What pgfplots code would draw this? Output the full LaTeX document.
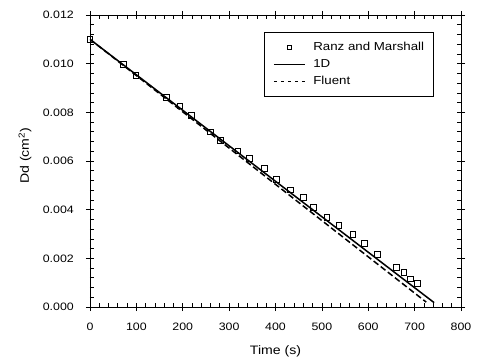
\documentclass[border=0pt]{standalone}
\usepackage{fontspec}
\setmainfont{Liberation Sans}[FakeStretch=1.15]
\usepackage{pgfplots}
\pgfplotsset{compat=1.18}
\pgfplotsset{
  markimg/.style={legend image code/.code={\draw[##1, mark size=2bp] plot coordinates {(15.5bp,0bp)};}},
  lineimg/.style={legend image code/.code={\draw[##1, line width=1bp] (0bp,0bp) -- (31bp,0bp);}},
  dashimg/.style={legend image code/.code={\draw[##1, line width=1bp, dash pattern=on 3bp off 4bp] (0bp,0bp) -- (31bp,0bp);}},
}
\begin{document}
\begin{tikzpicture}
\begin{axis}[
  scale only axis,
  width=371bp, height=292bp,
  xmin=0, xmax=800, ymin=0, ymax=0.012,
  xtick={0,100,...,800},
  ytick={0,0.002,0.004,0.006,0.008,0.010,0.012},
  minor x tick num=4, minor y tick num=4,
  tick align=inside,
  major tick length=0bp,
  minor tick length=4bp,
  extra x ticks={0,100,...,800},
  extra x tick labels={},
  extra y ticks={0,0.002,0.004,0.006,0.008,0.010,0.012},
  extra y tick labels={},
  extra tick style={tick align=center, major tick length=8bp},
  axis line style={line width=0.8bp},
  every tick/.style={black, line width=0.7bp},
  scaled y ticks=false,
  /pgf/number format/assume math mode=true,
  yticklabel={\pgfmathprintnumber[fixed, fixed zerofill, precision=3]{\tick}},
  xticklabel style={anchor=center, yshift=-19.7bp, inner sep=0pt, font=\fontsize{10.8}{12}\selectfont},
  yticklabel style={anchor=east, xshift=-16bp, inner sep=0pt, font=\fontsize{10.8}{12}\selectfont},
  xlabel={Time (s)},
  ylabel={Dd (cm\textsuperscript{2})},
  xlabel style={at={(axis description cs:0.5,-0.1507)}, anchor=center, font=\fontsize{12.3}{14}\selectfont},
  ylabel style={at={(axis description cs:-0.175,0.518)}, anchor=center, font=\fontsize{12.3}{14}\selectfont},
  legend style={at={(0.469,0.942)}, anchor=north west, draw=black, line width=0.7bp,
    font=\fontsize{11.6}{13}\selectfont, cells={anchor=west},
    nodes={inner sep=0pt, text height=8bp, text depth=2bp},
    inner xsep=9bp, inner ysep=10.5bp, row sep=6.7bp},
  legend cell align=left,
  /tikz/every odd column/.append style={column sep=8bp},
]
\coordinate (SW) at (rel axis cs:0,0);
\coordinate (NE) at (rel axis cs:1,1);
\addplot[only marks, mark=square, mark size=2.9bp, mark options={line width=0.9bp, black}, markimg]
  coordinates {
  (0,0.01101) (72,0.00997) (99,0.00952) (164,0.00862) (194,0.00826) (218,0.00788)
  (259,0.00719) (282,0.00686) (319,0.00641) (343,0.00609) (376,0.00568) (402,0.00525)
  (432,0.00481) (460,0.00449) (481,0.00408) (511,0.00367) (537,0.00336) (567,0.00297)
  (591,0.00262) (620,0.00216) (660,0.00164) (677,0.00142) (691,0.00115) (706,0.00096)
  };
\addlegendentry{Ranz and Marshall}
\addplot[black, line width=1.5bp, lineimg]
  coordinates {
  (0,0.01100) (100,0.009542) (200,0.008084) (300,0.006625) (400,0.005167)
  (500,0.003709) (600,0.002251) (700,0.000792) (742,0.00018)
  };
\addlegendentry{1D}
\addplot[black, line width=1.5bp, dash pattern=on 6bp off 3bp, dashimg]
  coordinates {
  (0,0.01100) (100,0.009510) (200,0.008021) (300,0.006531) (400,0.005041)
  (500,0.003552) (600,0.002062) (700,0.000572) (725,0.0002)
  };
\addlegendentry{Fluent}
\end{axis}
\pgfresetboundingbox
\path[use as bounding box] (SW) ++(-90bp,-53bp) rectangle ([xshift=16bp,yshift=15bp]NE);
\end{tikzpicture}
\end{document}
